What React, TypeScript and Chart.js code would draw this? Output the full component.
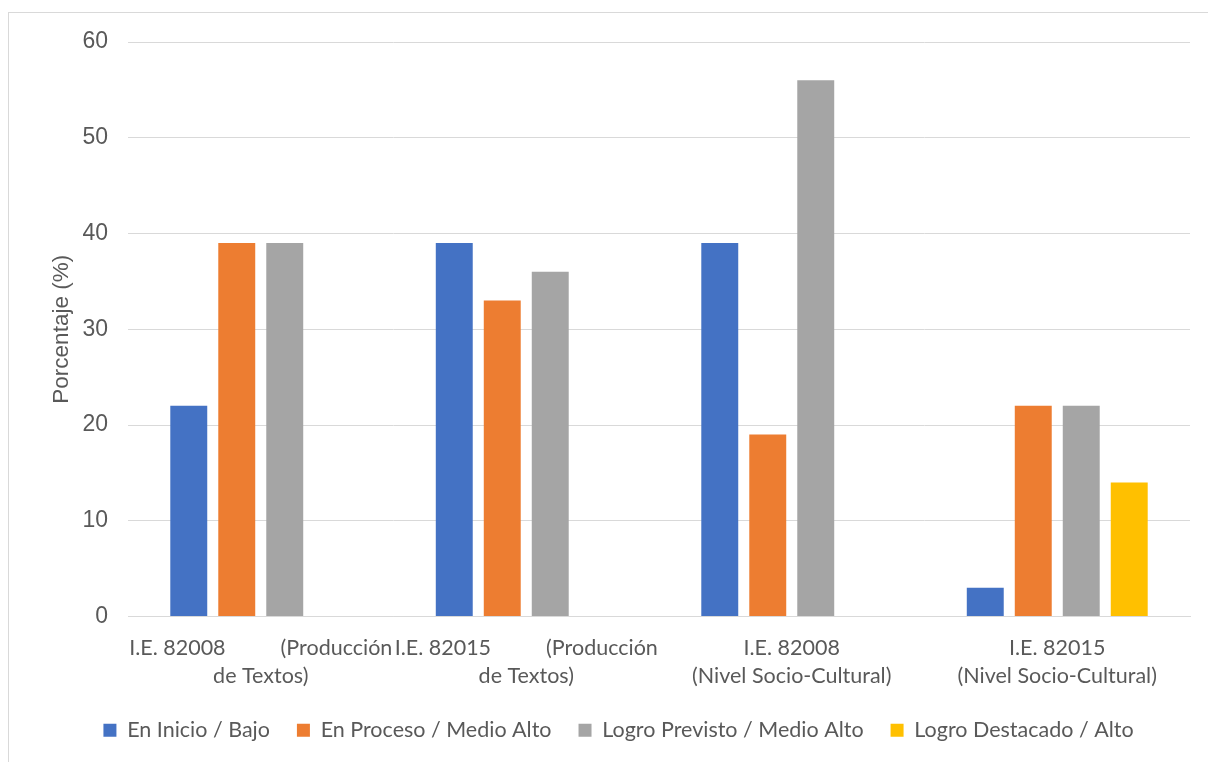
import React, { useEffect, useRef } from "react";
import { Chart, registerables } from "chart.js";

Chart.register(...registerables);

const categories: string[][] = [
  ["I.E. 82008\u00A0\u00A0\u00A0\u00A0\u00A0\u00A0\u00A0\u00A0\u00A0\u00A0(Producción", "de Textos)"],
  ["I.E. 82015\u00A0\u00A0\u00A0\u00A0\u00A0\u00A0\u00A0\u00A0\u00A0\u00A0(Producción", "de Textos)"],
  ["I.E. 82008", "(Nivel Socio-Cultural)"],
  ["I.E. 82015", "(Nivel Socio-Cultural)"],
];

const seriesNames = [
  "En Inicio / Bajo",
  "En Proceso / Medio Alto",
  "Logro Previsto / Medio Alto",
  "Logro Destacado / Alto",
];

const enInicio = [22, 39, 39, 3];
const enProceso = [39, 33, 19, 22];
const logroPrevisto = [39, 36, 56, 22];
const logroDestacado = [null, null, null, 14];

const seriesColors = ["#4472C4", "#ED7D31", "#A5A5A5", "#FFC000"];

const yTitle = "Porcentaje (%)";

const W = 1222;
const H = 760;

export default function App() {
  const ref = useRef<HTMLCanvasElement | null>(null);
  useEffect(() => {
    if (!ref.current) return;
    const values = [enInicio, enProceso, logroPrevisto, logroDestacado];
    const chart = new Chart(ref.current, {
      type: "bar",
      data: {
        labels: categories,
        datasets: values.map((d, i) => ({
          label: seriesNames[i],
          data: d,
          backgroundColor: seriesColors[i],
          borderWidth: 0,
          categoryPercentage: 0.723,
          barPercentage: 0.77,
        })),
      },
      options: {
        responsive: false,
        animation: false,
        layout: { padding: { left: 38, right: 41, top: 29, bottom: 22 } },
        plugins: {
          tooltip: { enabled: false },
          legend: {
            position: "bottom",
            labels: {
              boxWidth: 13,
              boxHeight: 13,
              padding: 27,
              color: "#595959",
              font: { family: "Lato", size: 21.5 },
            },
          },
        },
        scales: {
          x: {
            grid: { display: false, drawTicks: false },
            border: { display: true, color: "#d9d9d9", width: 1 },
            ticks: {
              color: "#595959",
              font: { family: "Lato", size: 21.5, lineHeight: 1.3 },
              padding: 18,
              maxRotation: 0,
              autoSkip: false,
            },
            afterFit: (s: any) => {
              s.height = 76;
            },
          },
          y: {
            min: 0,
            max: 60,
            ticks: {
              stepSize: 10,
              color: "#595959",
              font: { family: "Liberation Sans", size: 23 },
              padding: 20,
            },
            grid: { color: "#d9d9d9", lineWidth: 1, drawTicks: false },
            border: { display: false },
            title: {
              display: true,
              text: yTitle,
              color: "#595959",
              font: { family: "Liberation Sans", size: 22.5 },
              padding: { top: 1, bottom: 0 },
            },
            afterFit: (s: any) => {
              s.width = 81;
              s.paddingTop = 0;
              s.paddingBottom = 0;
            },
          },
        },
      },
    });
    return () => chart.destroy();
  }, []);
  return (
    <div
      style={{
        position: "fixed",
        left: 8,
        top: 12,
        width: W,
        height: H,
        border: "1px solid #d9d9d9",
        background: "#fff",
      }}
    >
      <canvas ref={ref} width={W} height={H} style={{ display: "block" }} />
    </div>
  );
}
